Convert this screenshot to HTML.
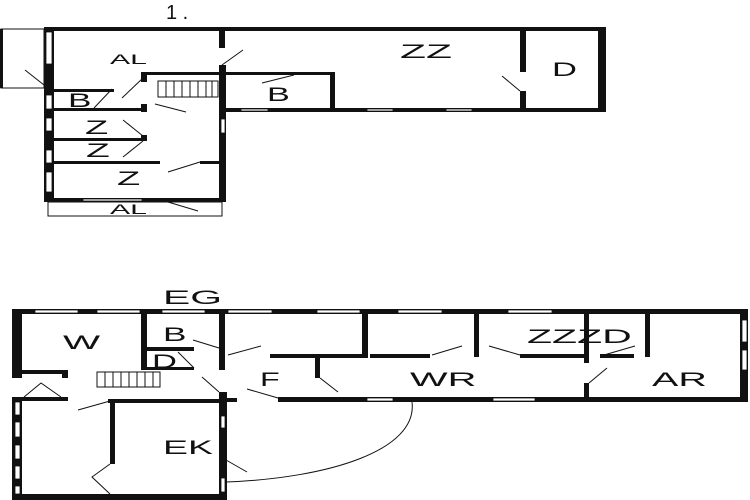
<!DOCTYPE html>
<html><head><meta charset="utf-8"><style>
html,body{margin:0;padding:0;background:#fff;width:750px;height:500px;overflow:hidden}
text{font-family:"Liberation Sans",sans-serif;fill:#111}
</style></head><body>
<svg width="750" height="500" viewBox="0 0 750 500" xmlns="http://www.w3.org/2000/svg">
<g fill="#111" stroke="none">
<rect x="44" y="27" width="562" height="4"/>
<rect x="598" y="27" width="8" height="85"/>
<rect x="222" y="108" width="384" height="4"/>
<rect x="44" y="27" width="10" height="175"/>
<rect x="219" y="31" width="6" height="17"/>
<rect x="219" y="65" width="7" height="137"/>
<rect x="141" y="72" width="80" height="3"/>
<rect x="226" y="72" width="109" height="3"/>
<rect x="330" y="72" width="5" height="38"/>
<rect x="141" y="72" width="6" height="10"/>
<rect x="141" y="104" width="6" height="8"/>
<rect x="141" y="135" width="6" height="6"/>
<rect x="520" y="31" width="6" height="41"/>
<rect x="520" y="91" width="6" height="21"/>
<rect x="54" y="108" width="91" height="3"/>
<rect x="54" y="138" width="91" height="3"/>
<rect x="54" y="161" width="106" height="3"/>
<rect x="200" y="161" width="20" height="3"/>
<rect x="54" y="89" width="60" height="3"/>
<rect x="44" y="198" width="182" height="4"/>
<rect x="0" y="29" width="3" height="59"/>
</g>
<g fill="#fff" stroke="#111" stroke-width="0.8">
<rect x="46" y="32" width="6" height="32"/>
<rect x="46" y="95" width="6" height="14"/>
<rect x="46" y="118" width="6" height="13"/>
<rect x="46" y="150" width="6" height="13"/>
<rect x="46" y="172" width="6" height="20"/>
<rect x="221" y="119" width="4" height="14"/>
<rect x="83" y="199" width="59" height="2"/>
<rect x="367" y="109" width="26" height="2"/>
<rect x="446" y="109" width="26" height="2"/>
<rect x="241" y="109" width="27" height="2"/>
</g>
<g fill="none" stroke="#111" stroke-width="1">
<rect x="1" y="29" width="43" height="59"/>
<rect x="48" y="202" width="174" height="14"/>
<line x1="25" y1="70" x2="44" y2="85"/>
<line x1="222" y1="65" x2="243" y2="50"/>
<line x1="262" y1="83" x2="294" y2="75"/>
<line x1="122" y1="98" x2="143" y2="78"/>
<line x1="94" y1="108" x2="112" y2="89"/>
<line x1="155" y1="104" x2="186" y2="112"/>
<line x1="123" y1="120" x2="143" y2="136"/>
<line x1="123" y1="157" x2="143" y2="141"/>
<line x1="168" y1="172" x2="200" y2="162"/>
<line x1="168" y1="202" x2="198" y2="211"/>
<line x1="502" y1="76" x2="520" y2="91"/>
<rect x="158" y="81" width="60" height="16"/>
<path d="M166 81V97M174 81V97M182 81V97M190 81V97M198 81V97M206 81V97M212 81V97"/>
</g>
<g fill="#111">
<rect x="12" y="309" width="736" height="5"/>
<rect x="740" y="309" width="8" height="93"/>
<rect x="12" y="309" width="10" height="69"/>
<rect x="12" y="397" width="10" height="103"/>
<rect x="12" y="494" width="214" height="6"/>
<rect x="12" y="370" width="56" height="4"/>
<rect x="62" y="370" width="6" height="8"/>
<rect x="22" y="397" width="46" height="4"/>
<rect x="108" y="399" width="119" height="4"/>
<rect x="110" y="399" width="5" height="65"/>
<rect x="141" y="313" width="6" height="57"/>
<rect x="147" y="347" width="47" height="4"/>
<rect x="147" y="367" width="47" height="3"/>
<rect x="219" y="313" width="6" height="57"/>
<rect x="219" y="392" width="8" height="108"/>
<rect x="225" y="398" width="12" height="4"/>
<rect x="270" y="354" width="98" height="4"/>
<rect x="362" y="313" width="6" height="45"/>
<rect x="315" y="357" width="5" height="21"/>
<rect x="278" y="397" width="470" height="5"/>
<rect x="370" y="354" width="60" height="4"/>
<rect x="520" y="354" width="65" height="4"/>
<rect x="600" y="354" width="34" height="4"/>
<rect x="474" y="313" width="5" height="44"/>
<rect x="584" y="313" width="5" height="50"/>
<rect x="584" y="383" width="5" height="18"/>
<rect x="645" y="313" width="5" height="44"/>
</g>
<g fill="#fff" stroke="#111" stroke-width="0.8">
<rect x="35" y="310" width="43" height="3"/>
<rect x="97" y="310" width="43" height="3"/>
<rect x="162" y="310" width="43" height="3"/>
<rect x="228" y="310" width="44" height="3"/>
<rect x="317" y="310" width="43" height="3"/>
<rect x="398" y="310" width="44" height="3"/>
<rect x="508" y="310" width="44" height="3"/>
<rect x="367" y="398" width="26" height="3"/>
<rect x="493" y="398" width="42" height="3"/>
<rect x="742" y="320" width="5" height="22"/>
<rect x="742" y="350" width="5" height="20"/>
<rect x="15" y="402" width="5" height="13"/>
<rect x="15" y="422" width="5" height="15"/>
<rect x="15" y="445" width="5" height="14"/>
<rect x="15" y="466" width="5" height="13"/>
<rect x="15" y="486" width="5" height="8"/>
<rect x="221" y="416" width="4" height="12"/>
<rect x="221" y="478" width="4" height="14"/>
</g>
<g fill="none" stroke="#111" stroke-width="1">
<path d="M24 397 L41 383 L61 397"/>
<line x1="78" y1="410" x2="110" y2="401"/>
<path d="M110 464 L92 477 L110 494"/>
<line x1="193" y1="340" x2="219" y2="348"/>
<line x1="228" y1="355" x2="261" y2="346"/>
<path d="M178 352 L194 368"/>
<line x1="202" y1="377" x2="219" y2="392"/>
<line x1="247" y1="389" x2="278" y2="398"/>
<line x1="320" y1="378" x2="338" y2="392"/>
<line x1="226" y1="460" x2="247" y2="472"/>
<line x1="432" y1="355" x2="462" y2="346"/>
<line x1="489" y1="346" x2="520" y2="355"/>
<line x1="604" y1="355" x2="635" y2="346"/>
<line x1="589" y1="383" x2="607" y2="368"/>
<path d="M226 482 C330 478 418 450 412 402"/>
<rect x="97" y="372" width="63" height="15"/>
<path d="M105 372V387M113 372V387M121 372V387M129 372V387M137 372V387M145 372V387M153 372V387"/>
</g>
<g font-size="19">
<text x="166" y="19" font-size="20">1 .</text>
<text transform="translate(110,64) scale(2.16,1)" font-size="14">AL</text>
<text transform="translate(400,58) scale(2.24,1)">ZZ</text>
<text transform="translate(552,76) scale(1.82,1)">D</text>
<text transform="translate(267,101) scale(1.8,1)">B</text>
<text transform="translate(68,107) scale(1.85,1)">B</text>
<text transform="translate(85,134) scale(2,1)">Z</text>
<text transform="translate(86,157) scale(2.05,1)">Z</text>
<text transform="translate(117,185) scale(2,1)">Z</text>
<text transform="translate(110,214) scale(2.16,1)" font-size="14">AL</text>
<text transform="translate(163,304) scale(2.15,1)">EG</text>
<text transform="translate(63,349) scale(2.07,1)">W</text>
<text transform="translate(163,341) scale(1.85,1)">B</text>
<text transform="translate(152,368) scale(1.82,1)">D</text>
<text transform="translate(260,386) scale(1.7,1)">F</text>
<text transform="translate(410,386) scale(2.1,1)">WR</text>
<text transform="translate(652,386) scale(2.08,1)">AR</text>
<text transform="translate(527,343) scale(2.16,1)">ZZZD</text>
<text transform="translate(163,454) scale(1.97,1)">EK</text>
</g>
</svg>
</body></html>
